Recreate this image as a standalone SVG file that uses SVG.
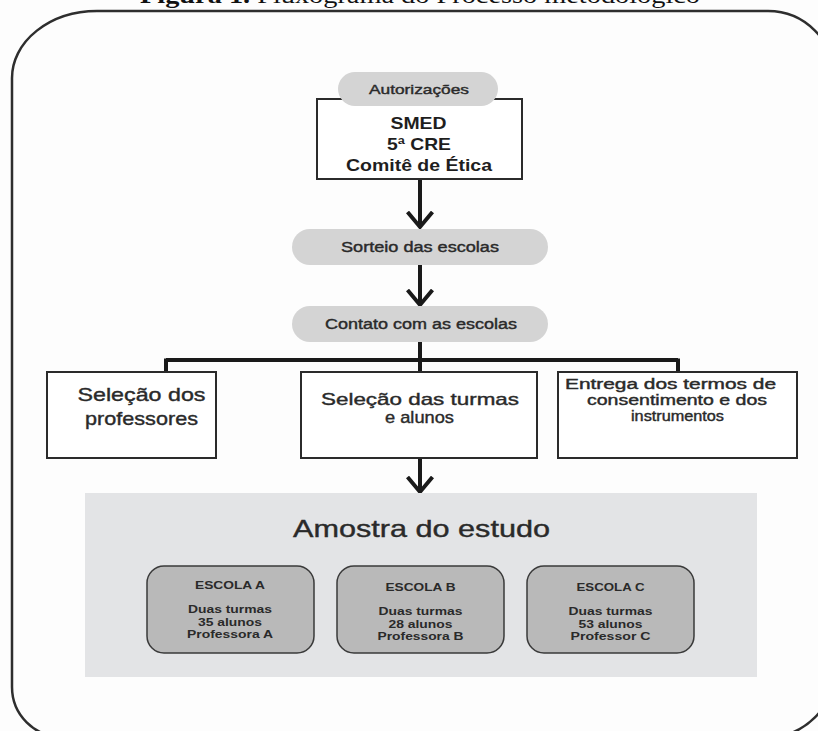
<svg xmlns="http://www.w3.org/2000/svg" width="818" height="731" viewBox="0 0 818 731">
<style>
.sans{font-family:"Liberation Sans",Arial,sans-serif;}
.b{font-weight:bold;}
.med{stroke:#2a2a2a;stroke-width:0.4;}
.pill{fill:#d4d4d4;}
.box{fill:#ffffff;stroke:#2b2b2b;stroke-width:2;}
.sch{fill:#b9b9b9;stroke:#3a3a3a;stroke-width:1.5;}
.conn{fill:none;stroke:#1a1a1a;stroke-width:4;}
.t1{fill:#2a2a2a;}
</style>
<defs>
<marker id="arr" markerUnits="userSpaceOnUse" viewBox="0 0 20 28" refX="16" refY="14" markerWidth="20" markerHeight="28" orient="auto">
<path d="M1,1.5 L16,14 L1,26.5" fill="none" stroke="#1a1a1a" stroke-width="4"/>
</marker>
</defs>
<rect x="0" y="0" width="818" height="731" fill="#fdfdfd"/>
<text x="140" y="3" font-family="Liberation Serif,serif" font-size="24" fill="#111" textLength="560" lengthAdjust="spacingAndGlyphs"><tspan font-weight="bold">Figura 1.</tspan> Fluxograma do Processo metodológico</text>
<path id="frame" d="M97,11 H768 A66,66 0 0 1 834,77 V671 A66,66 0 0 1 768,737 H62 A50,50 0 0 1 12,687 V78 A85,67 0 0 1 97,11 Z" fill="none" stroke="#2e2e2e" stroke-width="2.5"/>

<g id="connectors">
<path class="conn" d="M420,179 V227" marker-end="url(#arr)"/>
<path class="conn" d="M420,265 V305" marker-end="url(#arr)"/>
<path class="conn" d="M420,342 V372 M166,360 H678 M166,358.5 V372 M678,358.5 V372"/>
<path class="conn" d="M420,458 V492" marker-end="url(#arr)"/>
</g>

<g id="autorizacoes">
<rect class="box" x="317" y="99" width="205" height="80"/>
<rect class="pill" x="338" y="72" width="160" height="34" rx="17"/>
<text class="sans t1 med" x="419" y="94" font-size="13" text-anchor="middle" textLength="100" lengthAdjust="spacingAndGlyphs">Autorizações</text>
<text class="sans b" x="418.5" y="129" font-size="16.5" text-anchor="middle" fill="#1e1e1e" textLength="56" lengthAdjust="spacingAndGlyphs">SMED</text>
<text class="sans b" x="419" y="150" font-size="16.5" text-anchor="middle" fill="#1e1e1e" textLength="64" lengthAdjust="spacingAndGlyphs">5ª CRE</text>
<text class="sans b" x="419" y="171" font-size="16.5" text-anchor="middle" fill="#1e1e1e" textLength="146" lengthAdjust="spacingAndGlyphs">Comitê de Ética</text>
</g>

<g id="sorteio">
<rect class="pill" x="292" y="229" width="256" height="36" rx="18"/>
<text class="sans t1 med" x="420" y="252" font-size="14" text-anchor="middle" textLength="158" lengthAdjust="spacingAndGlyphs">Sorteio das escolas</text>
</g>

<g id="contato">
<rect class="pill" x="292" y="306" width="256" height="36" rx="18"/>
<text class="sans t1 med" x="421" y="329" font-size="14" text-anchor="middle" textLength="192" lengthAdjust="spacingAndGlyphs">Contato com as escolas</text>
</g>

<g id="selecao-professores">
<rect class="box" x="47" y="372" width="169" height="86"/>
<text class="sans t1 med" x="141.5" y="401" font-size="19" text-anchor="middle" textLength="128" lengthAdjust="spacingAndGlyphs">Seleção dos</text>
<text class="sans t1 med" x="141.5" y="425" font-size="19" text-anchor="middle" textLength="113" lengthAdjust="spacingAndGlyphs">professores</text>
</g>

<g id="selecao-turmas">
<rect class="box" x="301" y="372" width="236" height="86"/>
<text class="sans t1 med" x="420" y="405" font-size="17" text-anchor="middle" textLength="198" lengthAdjust="spacingAndGlyphs">Seleção das turmas</text>
<text class="sans t1 med" x="419.5" y="423" font-size="17" text-anchor="middle" textLength="69" lengthAdjust="spacingAndGlyphs">e alunos</text>
</g>

<g id="entrega">
<rect class="box" x="558" y="372" width="239" height="86"/>
<text class="sans t1 med" x="670.5" y="389" font-size="14" text-anchor="middle" textLength="211" lengthAdjust="spacingAndGlyphs">Entrega dos termos de</text>
<text class="sans t1 med" x="677" y="405" font-size="14" text-anchor="middle" textLength="180" lengthAdjust="spacingAndGlyphs">consentimento e dos</text>
<text class="sans t1 med" x="677.5" y="421" font-size="14" text-anchor="middle" textLength="93" lengthAdjust="spacingAndGlyphs">instrumentos</text>
</g>

<g id="amostra">
<rect x="85" y="493" width="672" height="184" fill="#e3e4e6"/>
<text class="sans t1 med" x="421.5" y="537" font-size="24" text-anchor="middle" textLength="257" lengthAdjust="spacingAndGlyphs">Amostra do estudo</text>
</g>

<g id="escola-a">
<rect class="sch" x="147" y="566" width="167" height="87" rx="17"/>
<text class="sans b t1" x="230" y="589" font-size="11.5" text-anchor="middle" textLength="70" lengthAdjust="spacingAndGlyphs">ESCOLA A</text>
<text class="sans b t1" x="230" y="613" font-size="11.5" text-anchor="middle" textLength="84" lengthAdjust="spacingAndGlyphs">Duas turmas</text>
<text class="sans b t1" x="230" y="625.5" font-size="11.5" text-anchor="middle" textLength="64" lengthAdjust="spacingAndGlyphs">35 alunos</text>
<text class="sans b t1" x="230" y="638" font-size="11.5" text-anchor="middle" textLength="86" lengthAdjust="spacingAndGlyphs">Professora A</text>
</g>

<g id="escola-b">
<rect class="sch" x="337" y="566" width="167" height="87" rx="17"/>
<text class="sans b t1" x="420.5" y="591" font-size="11.5" text-anchor="middle" textLength="70" lengthAdjust="spacingAndGlyphs">ESCOLA B</text>
<text class="sans b t1" x="420.5" y="615" font-size="11.5" text-anchor="middle" textLength="84" lengthAdjust="spacingAndGlyphs">Duas turmas</text>
<text class="sans b t1" x="420.5" y="627.5" font-size="11.5" text-anchor="middle" textLength="64" lengthAdjust="spacingAndGlyphs">28 alunos</text>
<text class="sans b t1" x="420.5" y="640" font-size="11.5" text-anchor="middle" textLength="86" lengthAdjust="spacingAndGlyphs">Professora B</text>
</g>

<g id="escola-c">
<rect class="sch" x="527" y="566" width="167" height="87" rx="17"/>
<text class="sans b t1" x="610.5" y="591" font-size="11.5" text-anchor="middle" textLength="68" lengthAdjust="spacingAndGlyphs">ESCOLA C</text>
<text class="sans b t1" x="610.5" y="615" font-size="11.5" text-anchor="middle" textLength="84" lengthAdjust="spacingAndGlyphs">Duas turmas</text>
<text class="sans b t1" x="610.5" y="627.5" font-size="11.5" text-anchor="middle" textLength="64" lengthAdjust="spacingAndGlyphs">53 alunos</text>
<text class="sans b t1" x="610.5" y="640" font-size="11.5" text-anchor="middle" textLength="80" lengthAdjust="spacingAndGlyphs">Professor C</text>
</g>
</svg>
